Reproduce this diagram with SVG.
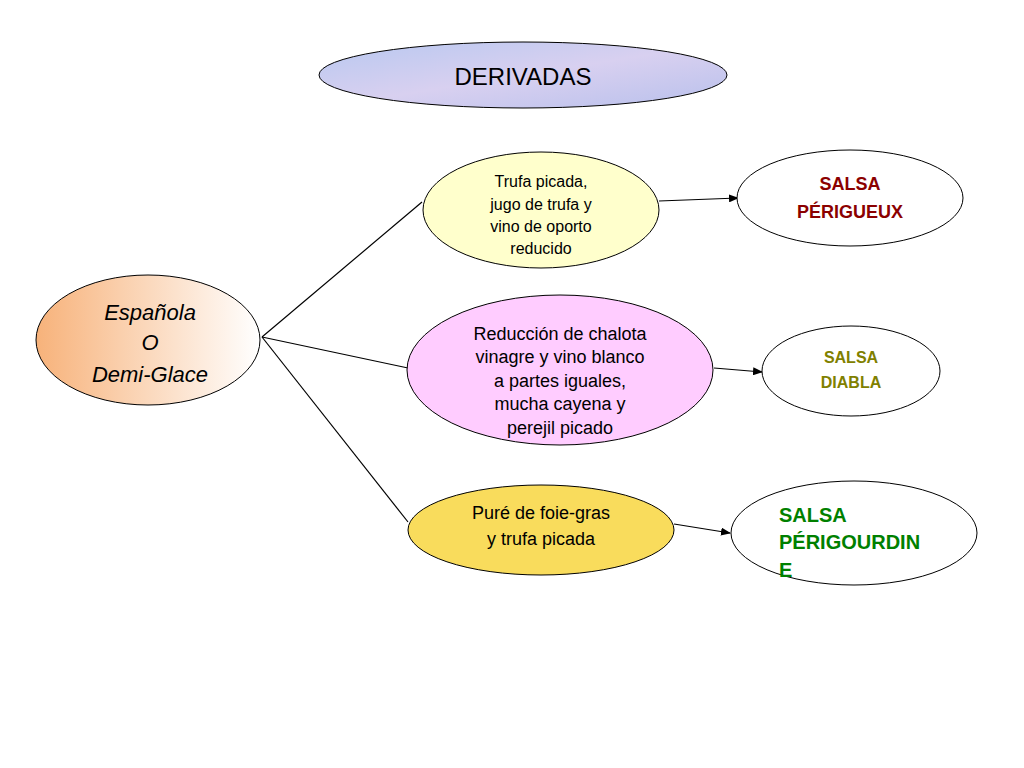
<svg xmlns="http://www.w3.org/2000/svg" width="1024" height="768" viewBox="0 0 1024 768">
<style>
.n{stroke:#000;stroke-width:1}
.t{font-family:"Liberation Sans",Arial,sans-serif;text-anchor:middle}
.c{stroke:#000;stroke-width:1.2;fill:none}
</style>
<defs>
<marker id="a" markerWidth="10" markerHeight="8" refX="9" refY="4" orient="auto" markerUnits="userSpaceOnUse"><path d="M0,0L10,4L0,8z" fill="#000"/></marker>
<linearGradient id="g" x1="0" y1="0" x2="1" y2="0"><stop offset="0" stop-color="#f7b27a"/><stop offset="1" stop-color="#fff"/></linearGradient>
<linearGradient id="h" x1="0" y1="0" x2="1" y2="1"><stop offset="0" stop-color="#b8c8f0"/><stop offset="0.5" stop-color="#d8d0f0"/><stop offset="1" stop-color="#b8c0ec"/></linearGradient>
</defs>
<rect width="1024" height="768" fill="#fff"/>
<g id="connectors">
<line class="c" x1="262" y1="337" x2="422" y2="202"/>
<line class="c" x1="262" y1="337" x2="408" y2="368"/>
<line class="c" x1="262" y1="337" x2="408" y2="522"/>
<line class="c" x1="659" y1="201" x2="738" y2="198" marker-end="url(#a)"/>
<line class="c" x1="714" y1="368" x2="762" y2="372" marker-end="url(#a)"/>
<line class="c" x1="674" y1="524" x2="730" y2="533" marker-end="url(#a)"/>
</g>
<g id="derivadas"><ellipse class="n" cx="523" cy="75" rx="204" ry="33" fill="url(#h)"/><text class="t" x="523" y="85" font-size="24">DERIVADAS</text></g>
<g id="espanola"><ellipse class="n" cx="148" cy="340" rx="112" ry="65" fill="url(#g)"/><text class="t" font-size="22" font-style="italic"><tspan x="150" y="320">Española</tspan><tspan x="150" y="350">O</tspan><tspan x="150" y="382">Demi-Glace</tspan></text></g>
<g id="trufa"><ellipse class="n" cx="541" cy="210" rx="118" ry="58" fill="#ffffcc"/><text class="t" font-size="16"><tspan x="541" y="187">Trufa picada,</tspan><tspan x="541" y="210">jugo de trufa y</tspan><tspan x="541" y="232">vino de oporto</tspan><tspan x="541" y="254">reducido</tspan></text></g>
<g id="reduccion"><ellipse class="n" cx="560" cy="370" rx="153" ry="75" fill="#ffccff"/><text class="t" font-size="18"><tspan x="560" y="340">Reducción de chalota</tspan><tspan x="560" y="363">vinagre y vino blanco</tspan><tspan x="560" y="387">a partes iguales,</tspan><tspan x="560" y="410">mucha cayena y</tspan><tspan x="560" y="434">perejil picado</tspan></text></g>
<g id="pure"><ellipse class="n" cx="541" cy="530" rx="133" ry="45" fill="#f9dc5c"/><text class="t" font-size="18"><tspan x="541" y="519">Puré de foie-gras</tspan><tspan x="541" y="545">y trufa picada</tspan></text></g>
<g id="perigueux"><ellipse class="n" cx="850" cy="198" rx="113" ry="48" fill="#fff"/><text class="t" font-size="18" font-weight="bold" fill="#8b0000"><tspan x="850" y="190">SALSA</tspan><tspan x="850" y="218">PÉRIGUEUX</tspan></text></g>
<g id="diabla"><ellipse class="n" cx="851" cy="371" rx="89" ry="45" fill="#fff"/><text class="t" font-size="16" font-weight="bold" fill="#808000"><tspan x="851" y="363">SALSA</tspan><tspan x="851" y="388">DIABLA</tspan></text></g>
<g id="perigourdine"><ellipse class="n" cx="854" cy="533" rx="123" ry="52" fill="#fff"/><text font-family="Liberation Sans,Arial,sans-serif" font-size="20" font-weight="bold" fill="#008000"><tspan x="779" y="522">SALSA</tspan><tspan x="779" y="549">PÉRIGOURDIN</tspan><tspan x="779" y="577">E</tspan></text></g>
</svg>
